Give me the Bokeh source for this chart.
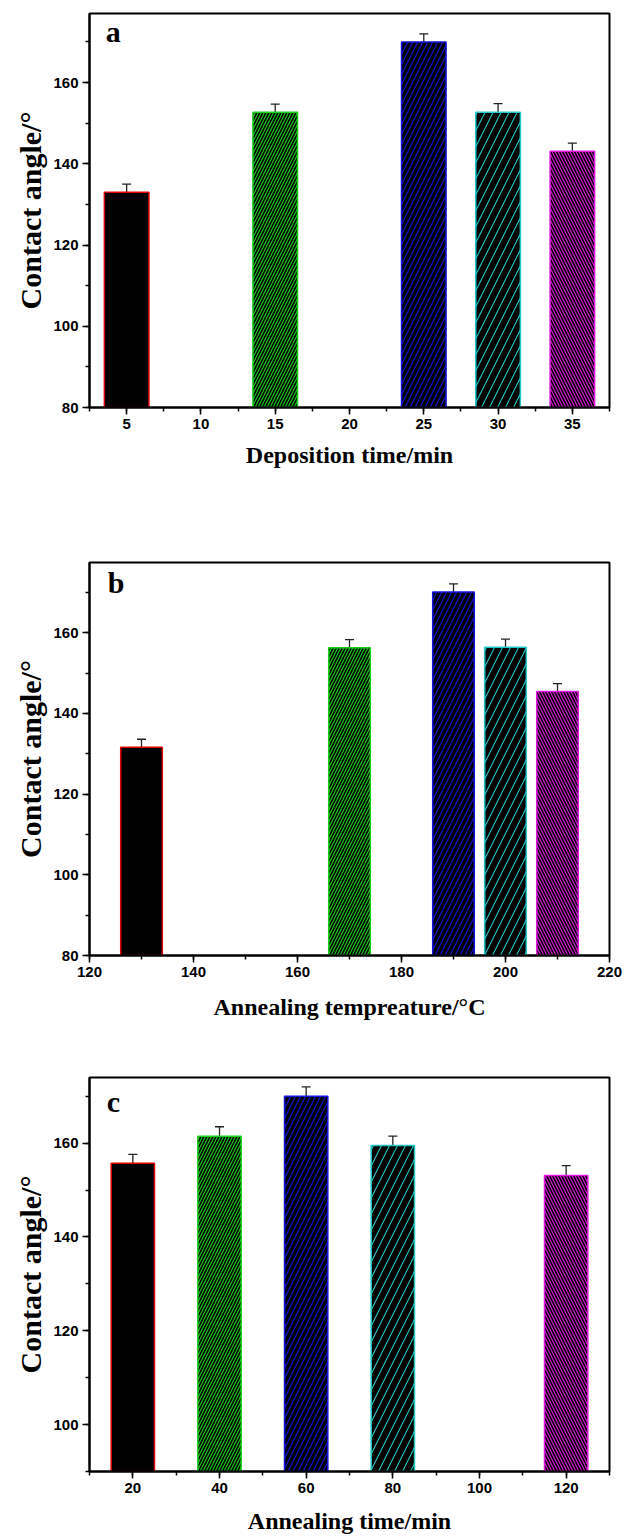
from bokeh.plotting import figure
from bokeh.layouts import column
from bokeh.models import ColumnDataSource, Whisker, TeeHead, Label, SingleIntervalTicker, Range1d
from bokeh.embed import file_html
from bokeh.resources import INLINE

# ---- data ----
dep_time = [5, 15, 25, 30, 35]
dep_angle = [133.0, 152.7, 170.0, 152.7, 143.1]
dep_err = [2.0, 2.0, 2.0, 2.1, 2.0]

ann_temp = [130, 170, 190, 200, 210]
ann_temp_angle = [131.6, 156.3, 170.1, 156.4, 145.4]
ann_temp_err = [2.0, 2.0, 2.0, 2.0, 2.0]

ann_time = [20, 40, 60, 80, 120]
ann_time_angle = [155.7, 161.5, 170.0, 159.5, 153.1]
ann_time_err = [1.9, 2.0, 2.0, 2.0, 2.1]

edge_colors = ["#e00000", "#18d018", "#1414e0", "#20c8c8", "#e018e0"]
hatch_patterns = [" ", "/", "/", "/", "\\"]
hatch_scales = [6, 6, 10, 16, 6]

SERIF = "Liberation Serif"
SANS = "Liberation Sans"


def make_panel(xs, ys, errs, bar_w, xr, yr, xlabel, letter, letter_xy,
               height, borders, x_interval, label_standoff):
    top_b, right_b, bottom_b, left_b = borders
    p = figure(width=630, height=height, output_backend="svg", toolbar_location=None,
               x_range=Range1d(*xr), y_range=Range1d(*yr),
               min_border_top=top_b, min_border_right=right_b,
               min_border_bottom=bottom_b, min_border_left=left_b)
    src = ColumnDataSource(dict(x=xs, top=ys, upper=[y + e for y, e in zip(ys, errs)],
                                col=edge_colors, hp=hatch_patterns, hs=hatch_scales))
    p.vbar(x="x", top="top", bottom=0, width=bar_w, source=src,
           fill_color="black", line_color="col", line_width=1.5,
           hatch_pattern="hp", hatch_color="col", hatch_scale="hs", hatch_weight=1.1)
    w = Whisker(base="x", lower="top", upper="upper", source=src, dimension="height",
                line_color="#222222", line_width=1.3,
                upper_head=TeeHead(size=9, line_color="#222222", line_width=1.3),
                lower_head=None)
    p.add_layout(w)

    p.xgrid.visible = False
    p.ygrid.visible = False
    p.outline_line_color = "black"
    p.outline_line_width = 2

    p.xaxis.ticker = SingleIntervalTicker(interval=x_interval, num_minor_ticks=2)
    p.yaxis.ticker = SingleIntervalTicker(interval=20, num_minor_ticks=2)
    for ax in (p.xaxis[0], p.yaxis[0]):
        ax.axis_line_color = "black"
        ax.axis_line_width = 2
        ax.major_tick_out = 7
        ax.major_tick_in = 0
        ax.minor_tick_out = 4
        ax.minor_tick_in = 0
        ax.major_tick_line_width = 1.5
        ax.minor_tick_line_width = 1.5
        ax.major_label_text_font = SANS
        ax.major_label_text_font_style = "bold"
        ax.major_label_text_font_size = "15px"
        ax.major_label_text_color = "black"
        ax.major_label_standoff = 4
        ax.axis_label_text_font = SERIF
        ax.axis_label_text_font_style = "bold"
        ax.axis_label_text_color = "black"
    p.xaxis.axis_label = xlabel
    p.xaxis.axis_label_text_font_size = "24px"
    p.xaxis.axis_label_standoff = label_standoff
    p.yaxis.axis_label = "Contact angle/°"
    p.yaxis.axis_label_text_font_size = "30px"
    p.yaxis.axis_label_standoff = 3

    p.add_layout(Label(x=letter_xy[0], y=letter_xy[1], text=letter,
                       text_font=SERIF, text_font_style="bold",
                       text_font_size="30px", text_color="black"))
    return p


pa = make_panel(dep_time, dep_angle, dep_err, 3, (2.5, 37.5), (80, 177),
                "Deposition time/min", "a", (3.6, 168.5),
                538, (13, 21, 131, 83), 5, 10)
pb = make_panel(ann_temp, ann_temp_angle, ann_temp_err, 8, (120, 220), (80, 177.4),
                "Annealing tempreature/°C", "b", (123.5, 168.3),
                512, (24, 13, 95, 89), 20, 14)
pc = make_panel(ann_time, ann_time_angle, ann_time_err, 10, (10, 130), (90, 174),
                "Annealing time/min", "c", (14.0, 165.3),
                487, (27, 21, 66, 83), 20, 12)

layout = column(pa, pb, pc, spacing=0)

with open("out.html", "w") as f:
    f.write(file_html(layout, INLINE))
